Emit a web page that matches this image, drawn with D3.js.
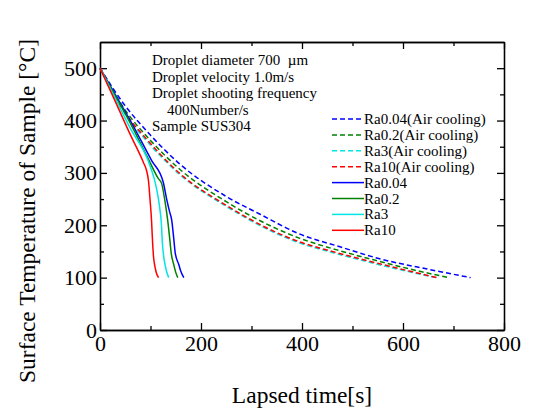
<!DOCTYPE html>
<html>
<head>
<meta charset="utf-8">
<script src="https://cdn.jsdelivr.net/npm/d3@7"></script>
<style>
  body { margin: 0; background: #fff; }
  svg { display: block; font-family: "Liberation Serif", "Times New Roman", serif; }
  .axis path, .axis line { stroke: #000; stroke-width: 1.3; }
</style>
</head>
<body>
<svg id="chart" width="533" height="409"></svg>
<script>
// Surface temperature vs lapsed time, water droplet vs air cooling

const xTicks = [0, 200, 400, 600, 800];
const xMinor = [100, 300, 500, 700];
const yTicks = [0, 100, 200, 300, 400, 500];
const yMinor = [50, 150, 250, 350, 450];

const seriesNames = [
  "Ra0.04(Air cooling)", "Ra0.2(Air cooling)", "Ra3(Air cooling)", "Ra10(Air cooling)",
  "Ra0.04", "Ra0.2", "Ra3", "Ra10"
];

// [time, temperature]
const airRa004 = [[0,500],[50,428],[100,372],[158,317],[250,255],[317,221],[396,183],[475,159],[550,137],[650,116],[734,100]];
const airRa02  = [[0,500],[50,420],[100,362],[158,307],[250,245],[396,175],[469,153],[550,132],[620,115],[691,100]];
const airRa3   = [[0,500],[50,413],[100,353],[158,297],[250,236],[396,166],[460,148],[560,123],[665,100]];
const airRa10  = [[0,500],[50,415],[100,356],[158,299],[250,238],[396,168],[460,150],[560,125],[667,100]];

const waterRa004 = [[0,500],[30,450],[60,400],[102,324],[125,283],[132,250],[138,225],[142,210],[146,175],[149,147],[156,125],[160,112],[166,100]];
const waterRa02  = [[0,500],[30,448],[60,395],[97,324],[115,290],[122,280],[128,250],[134,210],[138,175],[141,147],[146,125],[150,110],[154,100]];
const waterRa3   = [[0,500],[30,443],[60,385],[95,324],[107,290],[113,265],[118,235],[121,210],[124,160],[127,135],[131,115],[136,100]];
const waterRa10  = [[0,500],[30,437],[60,373],[86,320],[92,305],[96,285],[99,250],[102,210],[104,170],[106,140],[109,120],[112,108],[116,100]];

const seriesData = [airRa004, airRa02, airRa3, airRa10, waterRa004, waterRa02, waterRa3, waterRa10];
const seriesColors = ["#0000ff", "#008000", "#00e5e5", "#ff0000", "#0000ff", "#008000", "#00e5e5", "#ff0000"];

const notes = [
  "Droplet diameter 700  \u00b5m",
  "Droplet velocity 1.0m/s",
  "Droplet shooting frequency",
  "    400Number/s",
  "Sample SUS304"
];

const svg = d3.select("#chart");
const margin = {top: 42, right: 29, bottom: 79, left: 100};
const width = 533, height = 409;
const serif = "Liberation Serif";

const x = d3.scaleLinear().domain([0, 800]).range([margin.left, width - margin.right]);
const y = d3.scaleLinear().domain([0, 550]).range([height - margin.bottom, margin.top]);

// Frame + ticks (all ticks point inward)
const addAxis = (axis, transform, labels) => {
  const g = svg.append("g").attr("class", "axis").attr("transform", transform).call(axis);
  g.attr("font-family", serif).attr("font-size", 22);
  if (!labels) g.selectAll("text").remove();
  else g.selectAll("text").attr("fill", "#000");
  return g;
};

addAxis(d3.axisBottom(x).tickValues(xTicks).tickSize(-7).tickSizeOuter(0).tickPadding(5).tickFormat(d3.format("d")),
  `translate(0,${y(0)})`, true);
addAxis(d3.axisBottom(x).tickValues(xMinor).tickSize(-4).tickSizeOuter(0), `translate(0,${y(0)})`, false);
addAxis(d3.axisTop(x).tickValues(xTicks).tickSize(-7).tickSizeOuter(0), `translate(0,${y(550)})`, false);
addAxis(d3.axisTop(x).tickValues(xMinor).tickSize(-4).tickSizeOuter(0), `translate(0,${y(550)})`, false);

addAxis(d3.axisLeft(y).tickValues(yTicks).tickSize(-7).tickSizeOuter(0).tickPadding(3).tickFormat(d3.format("d")),
  `translate(${x(0)},0)`, true);
addAxis(d3.axisLeft(y).tickValues(yMinor).tickSize(-4).tickSizeOuter(0), `translate(${x(0)},0)`, false);
addAxis(d3.axisRight(y).tickValues(yTicks).tickSize(-7).tickSizeOuter(0), `translate(${x(800)},0)`, false);
addAxis(d3.axisRight(y).tickValues(yMinor).tickSize(-4).tickSizeOuter(0), `translate(${x(800)},0)`, false);

// Curves
const line = d3.line().x(d => x(d[0])).y(d => y(d[1])).curve(d3.curveMonotoneX);

svg.append("g").selectAll("path")
  .data(seriesData)
  .join("path")
  .attr("fill", "none")
  .attr("stroke", (d, i) => seriesColors[i])
  .attr("stroke-width", 1.5)
  .attr("stroke-dasharray", (d, i) => i < 4 ? "5,3" : null)
  .attr("d", d => line(d));

// Legend
const legend = svg.append("g").attr("transform", "translate(332,119)");
seriesNames.forEach((name, i) => {
  const row = legend.append("g").attr("transform", `translate(0,${i * 15.9})`);
  row.append("line")
    .attr("x1", 0).attr("x2", 32)
    .attr("stroke", seriesColors[i])
    .attr("stroke-width", 1.5)
    .attr("stroke-dasharray", i < 4 ? "5,3" : null);
  row.append("text")
    .attr("x", 32)
    .attr("y", 5)
    .attr("font-family", serif)
    .style("font-size", "15px")
    .text(name);
});

// Experimental conditions
svg.append("g").selectAll("text")
  .data(notes)
  .join("text")
  .attr("x", 152)
  .attr("y", (d, i) => 65 + i * 16.5)
  .attr("font-family", serif)
  .style("font-size", "15px")
  .style("white-space", "pre")
  .attr("xml:space", "preserve")
  .text(d => d);

// Axis titles
svg.append("text")
  .attr("x", (x(0) + x(800)) / 2)
  .attr("y", 403)
  .attr("text-anchor", "middle")
  .attr("font-family", serif)
  .style("font-size", "23.5px")
  .text("Lapsed time[s]");

svg.append("text")
  .attr("transform", "translate(35,211) rotate(-90)")
  .attr("text-anchor", "middle")
  .attr("font-family", serif)
  .style("font-size", "23.5px")
  .text("Surface Temperature of Sample [\u00b0C]");
</script>
</body>
</html>
